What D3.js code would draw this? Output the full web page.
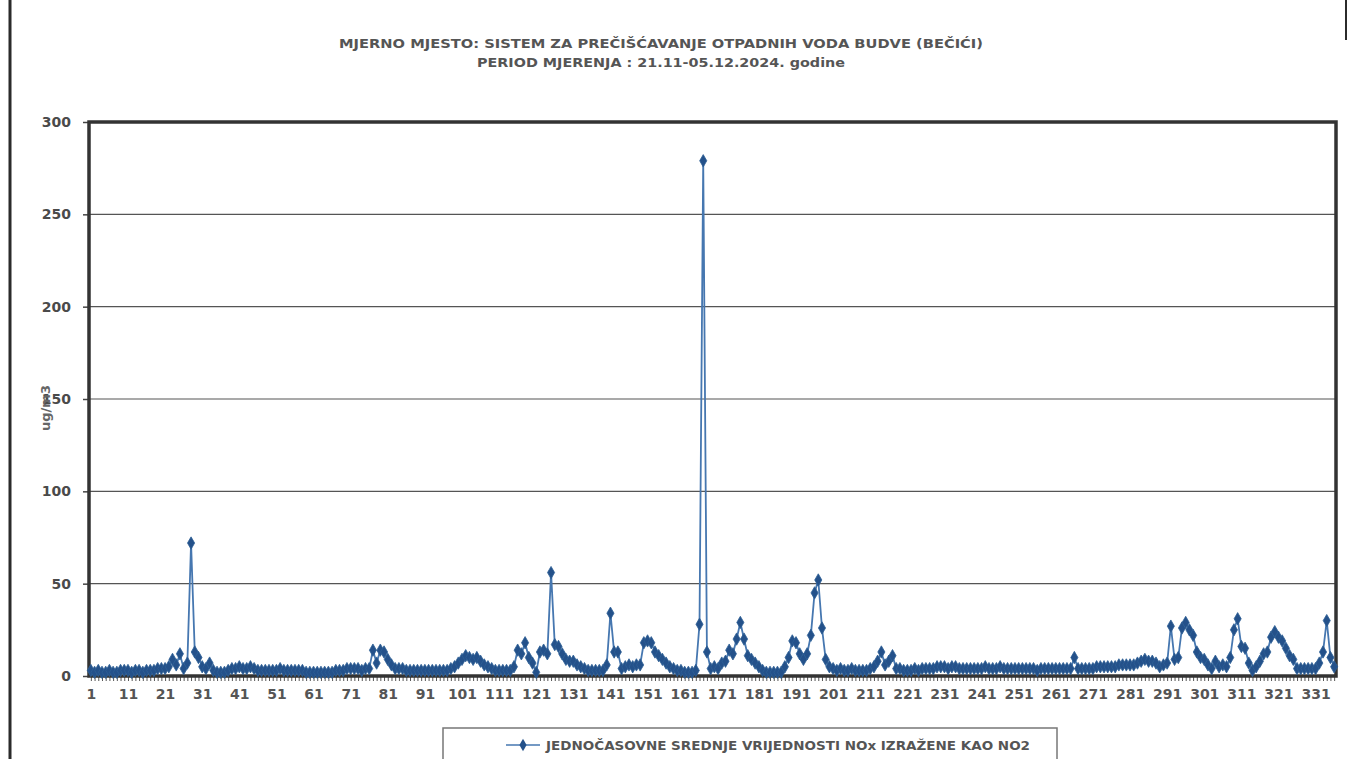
<!DOCTYPE html>
<html><head><meta charset="utf-8">
<script src="https://cdn.jsdelivr.net/npm/d3@7"></script>
<style>
html,body{margin:0;padding:0;background:#fff;}
svg{display:block;}
text{font-family:"DejaVu Sans",sans-serif;}
</style></head>
<body>
<svg id="c" width="1349" height="759"></svg>
<script>
const titleLines = ["MJERNO MJESTO: SISTEM  ZA PREČIŠĆAVANJE  OTPADNIH VODA BUDVE (BEČIĆI)",
                    "PERIOD MJERENJA : 21.11-05.12.2024.  godine"];
const yTitle = "ug/m3";
const legendLabel = "JEDNOČASOVNE SREDNJE VRIJEDNOSTI NOx IZRAŽENE KAO NO2";
const yTicks = [0, 50, 100, 150, 200, 250, 300];
// hourly values, points 1..336
const values = [
  3,2,3,2,2,3,2,2,3,3,
  3,2,3,3,2,3,3,3,4,4,
  4,5,9,6,12,4,7,72,13,10,
  5,4,7,3,2,2,2,3,4,4,
  5,4,4,5,4,3,3,3,3,3,
  3,4,3,3,3,3,3,3,2,2,
  2,2,2,2,2,2,3,3,3,4,
  4,4,4,3,4,4,14,7,14,13,
  9,6,4,4,4,3,3,3,3,3,
  3,3,3,3,3,3,3,4,5,7,
  9,11,10,9,10,8,6,5,4,3,
  3,3,3,3,5,14,12,18,10,7,
  2,13,14,12,56,17,16,12,9,8,
  8,6,5,4,3,3,3,3,3,6,
  34,13,13,4,5,6,5,6,6,18,
  19,18,13,11,9,7,5,4,3,3,
  2,2,2,3,28,279,13,4,5,4,
  7,8,14,12,20,29,20,11,9,7,
  5,3,2,2,2,2,2,5,10,19,
  18,12,9,12,22,45,52,26,9,5,
  4,3,4,3,3,4,3,3,3,3,
  4,5,8,13,6,8,11,4,4,3,
  3,3,4,3,4,4,4,4,5,5,
  5,4,5,5,4,4,4,4,4,4,
  4,5,4,4,4,5,4,4,4,4,
  4,4,4,4,4,3,4,4,4,4,
  4,4,4,4,4,10,4,4,4,4,
  4,5,5,5,5,5,5,6,6,6,
  6,6,7,8,9,8,8,7,5,6,
  7,27,9,10,26,29,25,22,13,10,
  9,6,4,8,5,6,5,10,25,31,
  16,15,7,3,5,8,12,13,21,24,
  21,19,15,11,9,4,4,4,4,4,
  4,7,13,30,10,5
];
const categories = values.map((d, i) => i + 1);
const xLabels = categories.filter(c => (c - 1) % 10 === 0);

const svg = d3.select("#c");
const L = 89, R = 1336, T = 122, B = 676;

// outer frame fragments
svg.append("line").attr("x1", 10).attr("x2", 10).attr("y1", 0).attr("y2", 759)
  .attr("stroke", "#2b2b2b").attr("stroke-width", 3);
svg.append("line").attr("x1", 1346).attr("x2", 1346).attr("y1", 0).attr("y2", 40)
  .attr("stroke", "#2b2b2b").attr("stroke-width", 2);

// title
const tW = [644, 368];
titleLines.forEach((t, i) => {
  svg.append("text").attr("x", 661).attr("y", 48 + i * 19)
    .attr("text-anchor", "middle").attr("font-size", 13).attr("font-weight", "bold")
    .attr("font-family", "Liberation Sans Narrow, DejaVu Sans").attr("fill", "#555")
    .attr("textLength", tW[i]).attr("lengthAdjust", "spacingAndGlyphs")
    .text(t);
});

const x = d3.scalePoint().domain(categories).range([L, R]).padding(0.5);
const y = d3.scaleLinear().domain([0, 300]).range([B, T]);

// gridlines
svg.append("g").selectAll("line").data(yTicks.filter(v => v > 0 && v < 300)).join("line")
  .attr("x1", L).attr("x2", R).attr("y1", d => y(d)).attr("y2", d => y(d))
  .attr("stroke", "#555").attr("stroke-width", 1.2);

// y axis
const yAxis = svg.append("g").attr("transform", `translate(${L},0)`)
  .call(d3.axisLeft(y).tickValues(yTicks).tickSize(6).tickPadding(12));
yAxis.select(".domain").remove();
yAxis.selectAll("line").attr("stroke", "#444").attr("stroke-width", 1.5);
yAxis.selectAll("text").attr("font-size", 14).attr("font-weight", "bold")
  .attr("fill", "#4a4a4a").attr("font-family", "DejaVu Sans");

// x axis
const xAxis = svg.append("g").attr("transform", `translate(0,${B})`)
  .call(d3.axisBottom(x).tickValues(categories).tickSize(5).tickFormat(d => xLabels.includes(d) ? d : ""));
xAxis.select(".domain").remove();
xAxis.selectAll("line").attr("stroke", "#555").attr("stroke-width", 1);
xAxis.selectAll("text").attr("font-size", 14).attr("font-weight", "bold")
  .attr("fill", "#555").attr("font-family", "DejaVu Sans").attr("dy", "1.1em");

// y title
svg.append("text").attr("transform", `translate(50,408) rotate(-90)`)
  .attr("text-anchor", "middle").attr("font-size", 13).attr("font-weight", "bold")
  .attr("fill", "#666").text(yTitle);

// plot border
svg.append("rect").attr("x", L).attr("y", T).attr("width", R - L).attr("height", B - T)
  .attr("fill", "none").attr("stroke", "#333").attr("stroke-width", 3.5);

// series
const line = d3.line().x((d, i) => x(categories[i])).y(d => y(d));
svg.append("path").datum(values).attr("d", line)
  .attr("fill", "none").attr("stroke", "#4677b0").attr("stroke-width", 1.8);
const diamond = d3.symbol().type(d3.symbolDiamond).size(44);
svg.append("g").selectAll("path").data(values).join("path")
  .attr("d", diamond)
  .attr("transform", (d, i) => `translate(${x(categories[i])},${y(d)})`)
  .attr("fill", "#24518a").attr("stroke", "#2d5f96").attr("stroke-width", 0.8);

// legend
const lg = svg.append("g");
lg.append("rect").attr("x", 443).attr("y", 728).attr("width", 614).attr("height", 40)
  .attr("fill", "#fff").attr("stroke", "#777").attr("stroke-width", 1.5);
lg.append("line").attr("x1", 506).attr("x2", 540).attr("y1", 745).attr("y2", 745)
  .attr("stroke", "#4677b0").attr("stroke-width", 1.6);
lg.append("path").attr("d", diamond).attr("transform", "translate(523,745)").attr("fill", "#24518a");
lg.append("text").attr("x", 546).attr("y", 750).attr("font-size", 12).attr("font-weight", "bold")
  .attr("font-family", "Liberation Sans Narrow, DejaVu Sans").attr("fill", "#555")
  .attr("textLength", 484).attr("lengthAdjust", "spacingAndGlyphs").text(legendLabel);
</script>
</body></html>
